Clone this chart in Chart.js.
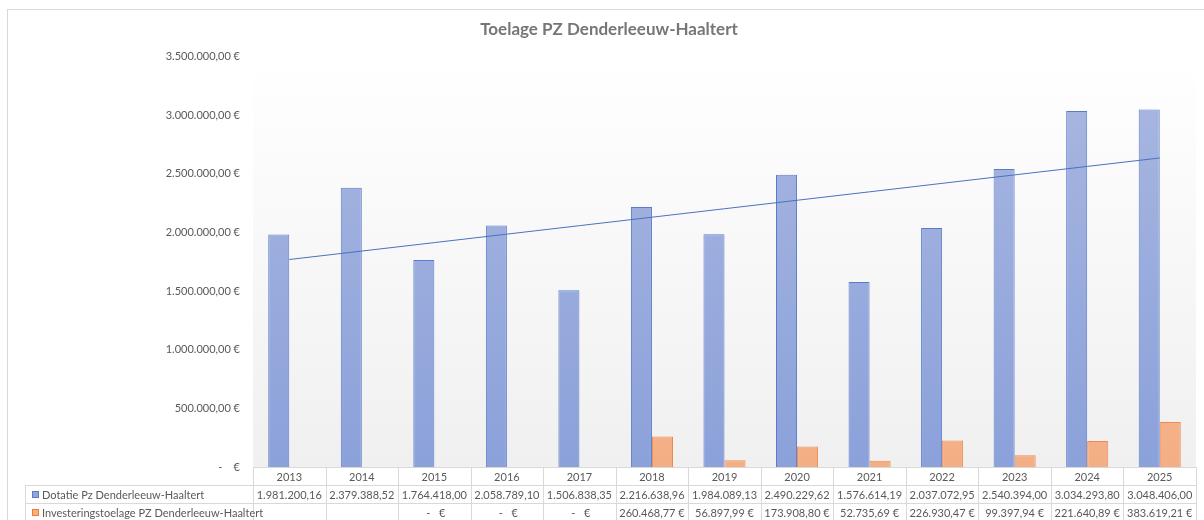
<!DOCTYPE html>
<html>
<head>
<meta charset="utf-8">
<script src="https://cdn.jsdelivr.net/npm/chart.js@4"></script>
<style>
  body { margin: 0; background: #fff; }
  canvas { display: block; }
</style>
</head>
<body>
<canvas id="grafiek" width="1204" height="520"></canvas>
<script>
const jaren = ['2013', '2014', '2015', '2016', '2017', '2018', '2019', '2020', '2021', '2022', '2023', '2024', '2025'];
const dotatie = [1981200.16, 2379388.52, 1764418.00, 2058789.10, 1506838.35, 2216638.96, 1984089.13, 2490229.62, 1576614.19, 2037072.95, 2540394.00, 3034293.80, 3048406.00];
const investering = [null, null, 0, 0, 0, 260468.77, 56897.99, 173908.80, 52735.69, 226930.47, 99397.94, 221640.89, 383619.21];
const yTicks = [0, 500000, 1000000, 1500000, 2000000, 2500000, 3000000, 3500000];

const labelDotatie = 'Dotatie Pz Denderleeuw-Haaltert';
const labelInvestering = 'Investeringstoelage PZ Denderleeuw-Haaltert';

const FONT = 'Lato, "Open Sans", sans-serif';
const TEXT = '#595959';
const LINE = '#d9d9d9';

function fmtNum(v) {
  const [i, d] = v.toFixed(2).split('.');
  return i.replace(/\B(?=(\d{3})+(?!\d))/g, '.') + ',' + d;
}

// linear trend on the dotatie series (like Excel's trendline)
function trend(values) {
  const n = values.length;
  const mx = (n - 1) / 2;
  const my = values.reduce((a, b) => a + b, 0) / n;
  let sxy = 0, sxx = 0;
  values.forEach((v, i) => { sxy += (i - mx) * (v - my); sxx += (i - mx) * (i - mx); });
  const slope = sxy / sxx;
  return values.map((v, i) => my + slope * (i - mx));
}

function verloop(chart, top, bottom) {
  const area = chart.chartArea;
  if (!area) return top;
  const g = chart.ctx.createLinearGradient(0, area.top, 0, area.bottom);
  g.addColorStop(0, top);
  g.addColorStop(1, bottom);
  return g;
}

// plot area background + outer border
const achtergrond = {
  id: 'achtergrond',
  beforeDraw(chart) {
    const { ctx, chartArea: a } = chart;
    ctx.save();
    ctx.strokeStyle = LINE;
    ctx.lineWidth = 1;
    ctx.strokeRect(7.5, 9.5, 1210, 520);
    const g = ctx.createLinearGradient(0, a.top, 0, a.bottom);
    g.addColorStop(0, '#ffffff');
    g.addColorStop(1, '#f0f0f0');
    ctx.fillStyle = g;
    ctx.fillRect(a.left, a.top, a.right - a.left, a.bottom - a.top);
    ctx.restore();
  }
};

// data table under the chart
const tabel = {
  id: 'tabel',
  afterDraw(chart) {
    const { ctx, chartArea: a } = chart;
    const x = chart.scales.x;
    const w = (a.right - a.left) / jaren.length;
    const rij = 18;
    const y0 = a.bottom, y1 = y0 + rij, y2 = y1 + rij, y3 = y2 + rij;
    const links = 25;
    ctx.save();
    ctx.strokeStyle = LINE;
    ctx.lineWidth = 1;
    ctx.beginPath();
    ctx.moveTo(a.left, y0 + 0.5); ctx.lineTo(a.right, y0 + 0.5);
    ctx.moveTo(links, y1 + 0.5); ctx.lineTo(a.right, y1 + 0.5);
    ctx.moveTo(links, y2 + 0.5); ctx.lineTo(a.right, y2 + 0.5);
    ctx.moveTo(links + 0.5, y1); ctx.lineTo(links + 0.5, y3);
    for (let i = 0; i <= jaren.length; i++) {
      const px = Math.round(a.left + i * w) + 0.5;
      ctx.moveTo(px, y0); ctx.lineTo(px, y3);
    }
    ctx.stroke();

    ctx.font = '11px ' + FONT;
    ctx.fillStyle = TEXT;
    ctx.textAlign = 'center';
    ctx.textBaseline = 'middle';
    jaren.forEach((j, i) => {
      const cx = x.getPixelForValue(i);
      ctx.fillText(j, cx, y0 + rij / 2 + 1);
      ctx.fillText(fmtNum(dotatie[i]), cx, y1 + rij / 2 + 1);
      const v = investering[i];
      if (v === null) return;
      if (v === 0) {
        ctx.textAlign = 'right';
        ctx.fillText('-', cx - 4, y2 + rij / 2 + 1);
        ctx.fillText('€', cx + 11, y2 + rij / 2 + 1);
        ctx.textAlign = 'center';
      } else {
        ctx.fillText(fmtNum(v) + ' €', cx, y2 + rij / 2 + 1);
      }
    });

    // legend keys
    ctx.textAlign = 'left';
    [[labelDotatie, '#8fa5dc', '#5b7bc9', y1], [labelInvestering, '#f4b183', '#ed7d31', y2]].forEach(([t, f, b, y]) => {
      ctx.fillStyle = f;
      ctx.fillRect(32, y + 6, 7, 7);
      ctx.strokeStyle = b;
      ctx.strokeRect(32.5, y + 6.5, 6, 6);
      ctx.fillStyle = TEXT;
      ctx.fillText(t, 42, y + rij / 2 + 1);
    });
    ctx.restore();
  }
};

const ctx = document.getElementById('grafiek').getContext('2d');
const chart = new Chart(ctx, {
  type: 'bar',
  data: {
    labels: jaren,
    datasets: [
      {
        type: 'line',
        label: 'Lineair (' + labelDotatie + ')',
        data: trend(dotatie),
        borderColor: '#4a72c0',
        borderWidth: 1,
        pointRadius: 0,
        fill: false,
        order: 0
      },
      {
        label: labelDotatie,
        data: dotatie,
        backgroundColor: c => verloop(c.chart, '#aab8e1', '#8ba1da'),
        borderColor: '#5b7bc9',
        borderWidth: 1,
        order: 1
      },
      {
        label: labelInvestering,
        data: investering.map(v => v || null),
        backgroundColor: c => verloop(c.chart, '#f8c7a8', '#f4ae84'),
        borderColor: '#ec8a52',
        borderWidth: 1,
        order: 1
      }
    ]
  },
  options: {
    responsive: false,
    animation: false,
    categoryPercentage: 0.58,
    barPercentage: 1.0,
    layout: { padding: { left: 22, right: 8, bottom: 53 } },
    plugins: {
      legend: { display: false },
      tooltip: { enabled: false },
      title: {
        display: true,
        text: 'Toelage PZ Denderleeuw-Haaltert',
        color: '#767676',
        font: { family: FONT, size: 17, weight: 'bold' },
        padding: { top: 19, bottom: 17 }
      }
    },
    scales: {
      x: { display: false },
      y: {
        min: 0,
        max: 3500000,
        afterFit: s => { s.width = 231; },
        afterBuildTicks: s => { s.ticks = yTicks.map(v => ({ value: v })); },
        grid: { display: false, drawTicks: false },
        border: { display: false },
        ticks: {
          padding: 13,
          color: TEXT,
          font: { family: FONT, size: 11 },
          callback: v => v === 0 ? '-    €' : fmtNum(v) + ' €'
        }
      }
    }
  },
  plugins: [achtergrond, tabel]
});
</script>
</body>
</html>
